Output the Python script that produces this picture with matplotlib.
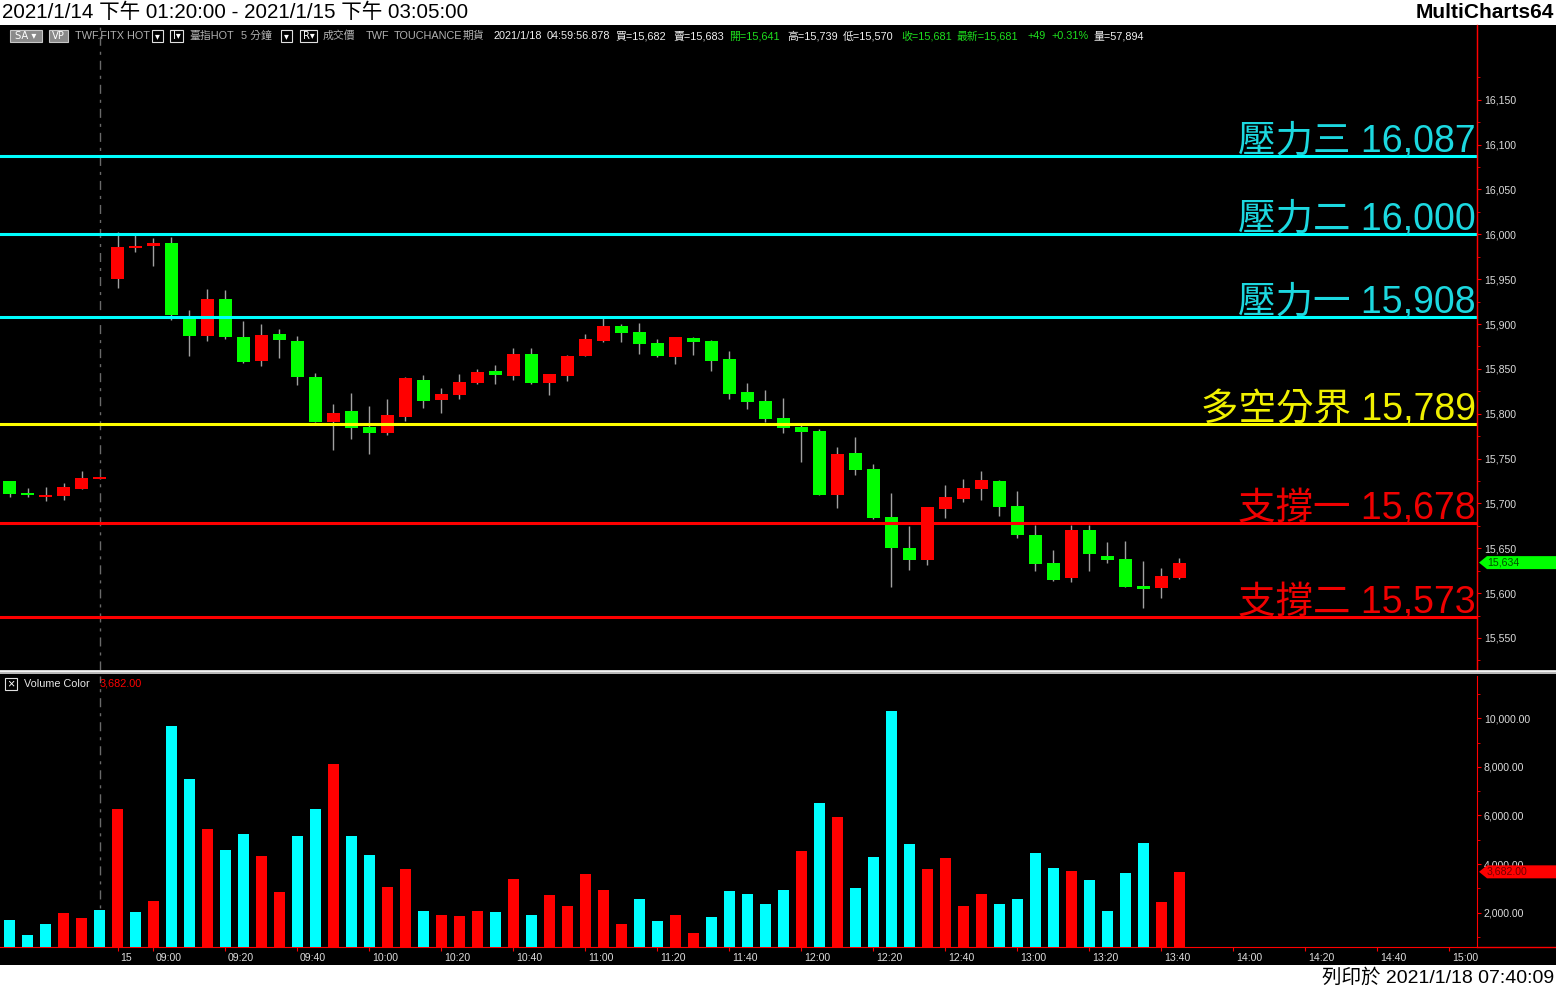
import matplotlib
matplotlib.use('Agg')
import matplotlib.pyplot as plt
import matplotlib.transforms as mtransforms
from matplotlib.patches import Polygon, Rectangle
from matplotlib.lines import Line2D
from matplotlib.ticker import MultipleLocator, FixedLocator, FuncFormatter

plt.rcParams['font.family'] = ['Liberation Sans', 'Noto Sans CJK TC', 'DejaVu Sans']

# 5-minute bars, 2021/1/14 13:20 .. 2021/1/15 13:45
opens = [15725, 15712, 15707, 15708, 15716, 15727, 15950, 15985, 15987, 15990,
         15907, 15887, 15928, 15886, 15859, 15889, 15881, 15841, 15791, 15803,
         15785, 15778, 15796, 15838, 15815, 15821, 15834, 15848, 15842, 15867,
         15834, 15842, 15864, 15881, 15898, 15891, 15879, 15863, 15884, 15881,
         15861, 15824, 15814, 15795, 15785, 15781, 15709, 15756, 15738, 15685,
         15650, 15637, 15694, 15705, 15716, 15725, 15697, 15665, 15634, 15617,
         15670, 15641, 15638, 15608, 15606, 15617]
highs = [15725, 15717, 15718, 15723, 15736, 15729, 16003, 15999, 15996, 15997,
         15916, 15939, 15938, 15903, 15900, 15894, 15887, 15845, 15811, 15823,
         15809, 15816, 15841, 15843, 15829, 15844, 15850, 15854, 15873, 15873,
         15844, 15865, 15889, 15908, 15900, 15901, 15883, 15886, 15886, 15882,
         15870, 15834, 15826, 15818, 15787, 15783, 15763, 15774, 15744, 15712,
         15675, 15696, 15721, 15727, 15736, 15726, 15714, 15676, 15648, 15676,
         15676, 15657, 15658, 15636, 15628, 15639]
lows = [15707, 15707, 15703, 15704, 15716, 15727, 15940, 15980, 15965, 15904,
        15864, 15881, 15883, 15856, 15853, 15862, 15832, 15791, 15759, 15772,
        15755, 15776, 15792, 15806, 15801, 15816, 15833, 15833, 15838, 15833,
        15821, 15836, 15864, 15880, 15880, 15867, 15863, 15855, 15866, 15848,
        15816, 15805, 15791, 15779, 15746, 15709, 15695, 15732, 15683, 15607,
        15626, 15631, 15684, 15702, 15704, 15686, 15661, 15625, 15614, 15612,
        15625, 15634, 15607, 15583, 15595, 15616]
closes = [15710, 15709, 15709, 15718, 15728, 15729, 15986, 15987, 15990, 15910,
          15887, 15928, 15886, 15858, 15888, 15882, 15841, 15791, 15801, 15784,
          15779, 15799, 15840, 15814, 15822, 15835, 15846, 15843, 15867, 15834,
          15844, 15864, 15883, 15898, 15890, 15878, 15864, 15886, 15880, 15859,
          15822, 15813, 15794, 15784, 15780, 15709, 15755, 15737, 15684, 15650,
          15637, 15696, 15707, 15717, 15726, 15696, 15665, 15632, 15615, 15670,
          15644, 15637, 15607, 15605, 15619, 15634]
volumes = [1700, 1080, 1530, 1990, 1780, 2110, 6270, 2030, 2480, 9680,
           7500, 5440, 4580, 5240, 4330, 2850, 5160, 6270, 8120, 5160,
           4370, 3060, 3800, 2070, 1910, 1860, 2070, 2030, 3390, 1910,
           2730, 2280, 3590, 2930, 1530, 2560, 1660, 1910, 1170, 1820,
           2890, 2770, 2360, 2930, 4540, 6520, 5940, 3020, 4290, 10300,
           4830, 3800, 4250, 2280, 2770, 2360, 2560, 4460, 3840, 3720,
           3350, 2070, 3630, 4870, 2440, 3682]
# 1 = red volume bar, 0 = cyan volume bar
vol_up = [0, 0, 0, 1, 1, 0, 1, 0, 1, 0,
          0, 1, 0, 0, 1, 1, 0, 0, 1, 0,
          0, 1, 1, 0, 1, 1, 1, 0, 1, 0,
          1, 1, 1, 1, 1, 0, 0, 1, 1, 0,
          0, 0, 0, 0, 1, 0, 1, 0, 0, 0,
          0, 1, 1, 1, 1, 0, 0, 0, 0, 1,
          0, 0, 0, 0, 1, 1]

level_names = ['壓力三', '壓力二', '壓力一', '多空分界', '支撐一', '支撐二']
level_prices = [16087, 16000, 15908, 15789, 15678, 15573]
level_colors = ['#00FFFF', '#00FFFF', '#00FFFF', '#FFFF00', '#FF0000', '#FF0000']
level_text_colors = ['#1CD8E0', '#1CD8E0', '#1CD8E0', '#F0F000', '#F00000', '#F00000']

price_ticks = [15550, 15600, 15650, 15700, 15750, 15800, 15850, 15900,
               15950, 16000, 16050, 16100, 16150]
vol_ticks = [2000, 4000, 6000, 8000, 10000]
tick_pos = [6, 8, 12, 16, 20, 24, 28, 32, 36, 40, 44, 48, 52, 56, 60, 64, 68, 72, 76, 80]
tick_labels = ['15', '09:00', '09:20', '09:40', '10:00', '10:20', '10:40', '11:00',
               '11:20', '11:40', '12:00', '12:20', '12:40', '13:00', '13:20', '13:40',
               '14:00', '14:20', '14:40', '15:00']
day_split = 5
last_price = closes[-1]
last_volume = volumes[-1]

W, H = 1556, 988
fig = plt.figure(figsize=(W / 100, H / 100), dpi=100, facecolor='black')


def fx(px):
    return px / W


def fy(py):
    return 1 - py / H


# white header / footer bands
fig.patches.append(Rectangle((0, fy(25)), 1, 25 / H, transform=fig.transFigure,
                             facecolor='white', edgecolor='none', zorder=0))
fig.patches.append(Rectangle((0, 0), 1, 23 / H, transform=fig.transFigure,
                             facecolor='white', edgecolor='none', zorder=0))
fig.text(fx(2), fy(12.5), '2021/1/14 下午 01:20:00 - 2021/1/15 下午 03:05:00',
         fontsize=14.8, color='black', ha='left', va='center')
fig.text(fx(1554), fy(12.5), 'MultiCharts64', fontsize=15, fontweight='bold',
         color='black', ha='right', va='center')
fig.text(fx(1554), fy(977), '列印於 2021/1/18 07:40:09', fontsize=14,
         color='black', ha='right', va='center')

# ---- price panel
ax = fig.add_axes([0, fy(670), fx(1477), (670 - 26) / H], facecolor='black')
idx = list(range(len(opens)))
body_bot = [min(o, c) for o, c in zip(opens, closes)]
body_h = [max(abs(c - o), 2) for o, c in zip(opens, closes)]
body_col = ['#FF0000' if c >= o else '#00FF00' for o, c in zip(opens, closes)]
ax.vlines(idx, lows, highs, color='#A0A0A0', lw=1, zorder=2)
ax.bar(idx, body_h, bottom=body_bot, width=0.72, color=body_col, lw=0, zorder=3)
ax.axvline(day_split, color='#6A6A6A', lw=1, ls=(0, (6.5, 4.3, 2.2, 4.3)), zorder=1)

for name, p, lc, tc in zip(level_names, level_prices, level_colors, level_text_colors):
    ax.axhline(p, color=lc, lw=2.2, zorder=4)
    ax.annotate(f'{name} {p:,}', xy=(1.0, p), xycoords=('axes fraction', 'data'),
                xytext=(-1, 4), textcoords='offset pixels', ha='right', va='baseline',
                fontsize=27, color=tc, zorder=5)

ax.set_xlim(-0.528, 81.53)
ax.set_ylim(15514.3, 16232.2)
ax.yaxis.tick_right()
ax.yaxis.set_major_locator(FixedLocator(price_ticks))
ax.yaxis.set_minor_locator(FixedLocator([t + 25 for t in price_ticks] + [15525]))
ax.yaxis.set_major_formatter(FuncFormatter(lambda v, _: f'{v:,.0f}'))
ax.tick_params(axis='y', which='major', colors='#FF0000', labelcolor='#DCDCDC',
               labelsize=7.6, length=3, pad=2)
ax.tick_params(axis='y', which='minor', colors='#FF0000', length=2)
ax.tick_params(axis='x', bottom=False, labelbottom=False)
for s in ['top', 'left', 'bottom']:
    ax.spines[s].set_visible(False)
ax.spines['right'].set_color('#FF0000')

# last price flag
ytr = mtransforms.blended_transform_factory(fig.transFigure, ax.transData)
hh = 6.5 * 1.1148
ax.add_patch(Polygon([(fx(1479), last_price), (fx(1487), last_price + hh), (1, last_price + hh),
                      (1, last_price - hh), (fx(1487), last_price - hh)],
                     closed=True, transform=ytr, facecolor='#00FF00', edgecolor='none',
                     clip_on=False, zorder=6))
ax.text(fx(1487), last_price, f'{last_price:,}', transform=ytr, fontsize=7.6,
        color='#005000', ha='left', va='center', clip_on=False, zorder=7)

# ---- volume panel
axv = fig.add_axes([0, fy(947), fx(1477), (947 - 676) / H], facecolor='black')
vcol = ['#FF0000' if u else '#00FFFF' for u in vol_up]
axv.bar(idx, volumes, width=0.62, color=vcol, lw=0, zorder=3)
axv.axvline(day_split, color='#6A6A6A', lw=1, ls=(0, (6.5, 4.3, 2.2, 4.3)), zorder=1)
axv.set_xlim(-0.528, 81.53)
axv.set_ylim(589, 11740)
axv.yaxis.tick_right()
axv.yaxis.set_major_locator(FixedLocator(vol_ticks))
axv.yaxis.set_minor_locator(MultipleLocator(1000))
axv.yaxis.set_major_formatter(FuncFormatter(lambda v, _: f'{v:,.2f}'))
axv.tick_params(axis='y', which='major', colors='#FF0000', labelcolor='#DCDCDC',
                labelsize=7.6, length=3, pad=2)
axv.tick_params(axis='y', which='minor', colors='#FF0000', length=2)
axv.set_xticks(tick_pos)
axv.set_xticklabels(tick_labels)
axv.tick_params(axis='x', colors='#FF0000', labelcolor='#DCDCDC', labelsize=7.6,
                length=3, pad=1.5)
shift = mtransforms.ScaledTranslation(0.025, 0, fig.dpi_scale_trans)
for lab in axv.get_xticklabels():
    lab.set_horizontalalignment('left')
    lab.set_transform(lab.get_transform() + shift)
for s in ['top', 'left']:
    axv.spines[s].set_visible(False)
axv.spines['right'].set_color('#FF0000')
axv.spines['bottom'].set_color('#FF0000')

vtr = mtransforms.blended_transform_factory(fig.transFigure, axv.transData)
vh = 6.5 * 41.15
axv.add_patch(Polygon([(fx(1479), last_volume), (fx(1487), last_volume + vh), (1, last_volume + vh),
                       (1, last_volume - vh), (fx(1487), last_volume - vh)],
                      closed=True, transform=vtr, facecolor='#FF0000', edgecolor='none',
                      clip_on=False, zorder=6))
axv.text(fx(1487), last_volume, f'{last_volume:,.2f}', transform=vtr, fontsize=7.6,
         color='#700000', ha='left', va='center', clip_on=False, zorder=7)

# frame lines
fig.add_artist(Line2D([fx(1477), fx(1477)], [fy(25), fy(670)], color='#FF0000', lw=1))
fig.add_artist(Line2D([fx(1477), 1], [fy(947), fy(947)], color='#FF0000', lw=1))
fig.patches.append(Rectangle((0, fy(674)), 1, 3.5 / H, transform=fig.transFigure,
                             facecolor='#B8B8B8', edgecolor='none', zorder=5))
fig.add_artist(Line2D([0, 1], [fy(671), fy(671)], color='white', lw=1.2, zorder=6))

# info bar
small = 7.8
ybar = fy(36)
for x0, x1, lab in [(10, 42, 'SA ▾'), (49, 68, 'VP')]:
    fig.patches.append(Rectangle((fx(x0), fy(42)), fx(x1 - x0), 12 / H, transform=fig.transFigure,
                                 facecolor='#8A8A8A', edgecolor='#C8C8C8', lw=0.8, zorder=5))
    fig.text(fx((x0 + x1) / 2), ybar, lab, fontsize=7.2, color='white', ha='center',
             va='center', zorder=6, family=['DejaVu Sans'])
for x0, x1, lab in [(152, 163, '▾'), (170, 183, 'I▾'), (281, 292, '▾'), (300, 317, 'R▾')]:
    fig.patches.append(Rectangle((fx(x0), fy(42)), fx(x1 - x0), 12 / H, transform=fig.transFigure,
                                 facecolor='black', edgecolor='#E0E0E0', lw=0.8, zorder=5))
    fig.text(fx((x0 + x1) / 2), ybar, lab, fontsize=7, color='white', ha='center',
             va='center', zorder=6, family=['DejaVu Sans'])

grey, white, green = '#B0B0B0', '#F0F0F0', '#1EE01E'
info_items = [(75, 'TWF.FITX HOT', grey), (189, '臺指HOT', grey), (241, '5 分鐘', grey),
              (323, '成交價', grey), (366, 'TWF', grey), (394, 'TOUCHANCE', grey),
              (463, '期貨', grey), (493, '2021/1/18', white), (547, '04:59:56.878', white),
              (615, '買=15,682', white), (673, '賣=15,683', white), (729, '開=15,641', green),
              (787, '高=15,739', white), (843, '低=15,570', white), (901, '收=15,681', green),
              (957, '最新=15,681', green), (1027, '+49', green), (1051, '+0.31%', green),
              (1093, '量=57,894', white)]
for x0, lab, col in info_items:
    fig.text(fx(x0), ybar, lab, fontsize=small, color=col, ha='left', va='center', zorder=6)

# volume legend
fig.patches.append(Rectangle((fx(5), fy(690)), fx(12), 12 / H, transform=fig.transFigure,
                             facecolor='black', edgecolor='#E0E0E0', lw=0.8, zorder=6))
fig.text(fx(11), fy(684), '×', fontsize=9, color='white', ha='center', va='center', zorder=7)
fig.text(fx(24), fy(684), 'Volume Color', fontsize=small, color='#E8E8E8',
         ha='left', va='center', zorder=7)
fig.text(fx(100), fy(684), f'{last_volume:,.2f}', fontsize=small, color='#FF0000',
         ha='left', va='center', zorder=7)

fig.savefig('out.png', dpi=100, facecolor='black')
